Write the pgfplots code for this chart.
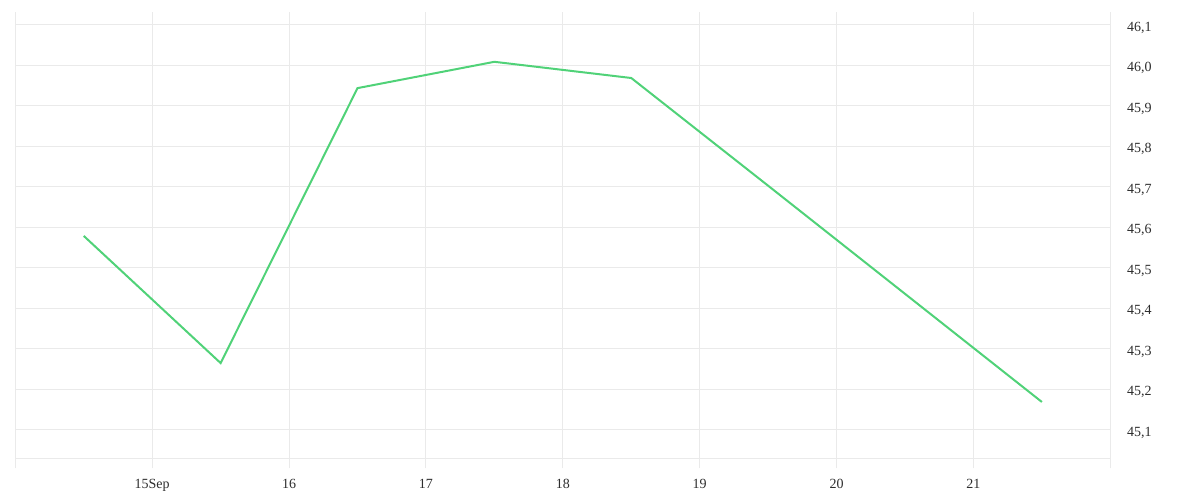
\documentclass[border=0pt]{standalone}
\usepackage{fontspec}
\setmainfont{Liberation Serif}
\usepackage{pgfplots}
\pgfplotsset{compat=1.18}
\definecolor{gridc}{RGB}{234,234,234}
\definecolor{linec}{RGB}{80,210,120}
\definecolor{textc}{RGB}{45,45,45}

\begin{document}
\begin{tikzpicture}
\path[use as bounding box] (0,0) rectangle (900pt,375pt);
\begin{axis}[
    at={(11.5pt,31.3pt)}, anchor=south west,
    width=821.25pt, height=334.7pt, scale only axis,
    xmin=14, xmax=22,
    ymin=45.03, ymax=46.132,
    xtick={14,...,22},
    xticklabels={,15Sep,16,17,18,19,20,21,},
    ytick={45.1,45.2,...,46.15},
    yticklabel pos=right,
    tick pos=bottom,
    xtick align=outside,
    major tick length=7.5pt,
    xtick style={gridc, line width=0.75pt},
    ytick style={draw=none},
    grid=major,
    major grid style={gridc, line width=0.75pt},
    axis line style={draw=none},
    ticklabel style={font=\fontsize{10.5}{12}\selectfont, text=textc},
    xticklabel style={yshift=-4.5pt},
    yticklabel style={anchor=west, xshift=9pt, yshift=-2pt},
    /pgf/number format/.cd, use comma, fixed, fixed zerofill, precision=1, assume math mode=true,
    /pgfplots/.cd,
    after end axis/.code={\draw[gridc, line width=0.75pt] (rel axis cs:0,0) -- (rel axis cs:1,0);},
]
\addplot[linec, line width=1.5pt] coordinates {
    (14.5,45.579)
    (15.5,45.265)
    (16.5,45.944)
    (17.5,46.009)
    (18.5,45.969)
    (19.5,45.703)
    (20.5,45.436)
    (21.5,45.169)
};
\end{axis}
\end{tikzpicture}
\end{document}
